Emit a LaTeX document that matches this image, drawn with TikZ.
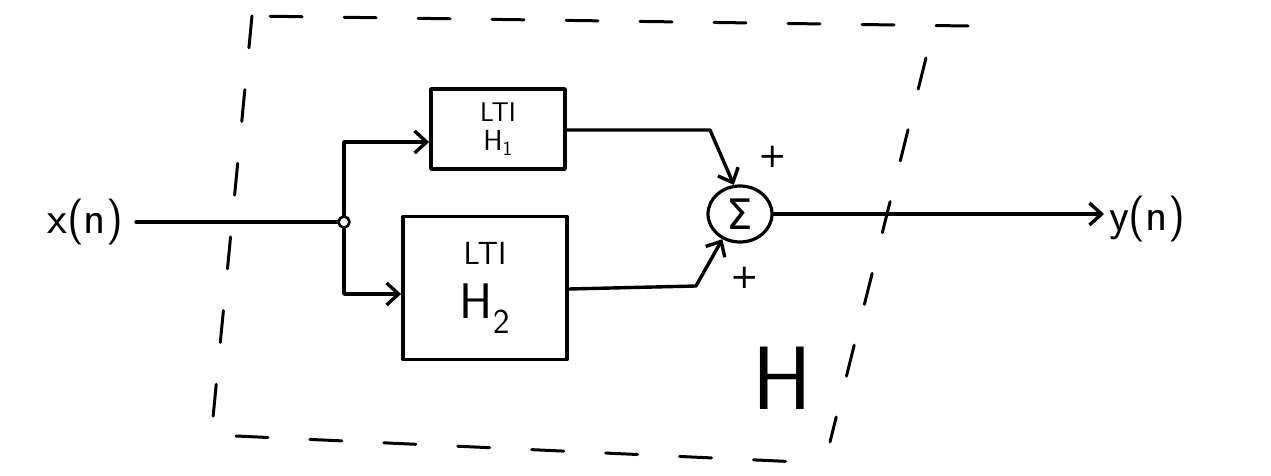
\documentclass[tikz,border=0pt]{standalone}
\usepackage{fontspec}
\newfontfamily\dvfont{DejaVu Sans}
\usetikzlibrary{arrows.meta,shapes.geometric}
\begin{document}
\begin{tikzpicture}[x=1pt,y=-1pt,
  line width=3.4pt, line cap=round, line join=round,
  every node/.style={font=\sffamily},
  wire/.style={line width=3.4pt},
  arr/.style={wire,-{Straight Barb[length=12pt,width=22pt,line width=3.4pt]}},
  ltibox/.style={draw, line width=3.8pt, rectangle, align=center, inner sep=0pt},
  dashbox/.style={line width=3pt, dash pattern=on 32pt off 42pt},
  sig/.style={font=\sffamily\fontsize{46}{50}\selectfont},
  plus/.style={font=\dvfont\fontsize{34}{36}\selectfont}
]
\useasboundingbox (0,0) rectangle (1271,476);

% signals
\node[sig, anchor=east] (xin) at (128,222) {x(n)};
\node[sig, anchor=west] (yout) at (1104,219) {y(n)};

% junction
\node[draw, circle, line width=2.6pt, minimum size=11pt, inner sep=0pt] (j) at (344,222) {};

% LTI boxes
\node[ltibox, minimum width=134pt, minimum height=80pt] (h1) at (498,129)
  {\fontsize{27}{27}\selectfont LTI\\[8pt]\fontsize{29}{29}\selectfont H\textsubscript{1}};
\node[ltibox, minimum width=164pt, minimum height=143pt] (h2) at (485,288)
  {\fontsize{32}{34}\selectfont LTI\\[18pt]\fontsize{50}{52}\selectfont H\textsubscript{2}};

% summer
\node[draw, ellipse, line width=3.2pt, minimum width=64pt, minimum height=56pt, inner sep=0pt,
  font=\dvfont\fontsize{42}{44}\selectfont] (sum) at (740,214) {Σ};
\node[plus] (p1) at (773,157) {+};
\node[plus] (p2) at (745,278) {+};

% big H label
\node[font=\sffamily\fontsize{90}{92}\selectfont] (H) at (782,378) {H};

% coordinates
\coordinate (k1) at (710,130);
\coordinate (k2) at (696,286);

% connectors
\draw[wire] (xin.east) ++(8,0) -- (j.west);
\draw[arr] (j.north) |- (h1.west |- 0,142);
\draw[arr] (j.south) |- (h2.west |- 0,294);
\draw[arr] (h1.east |- 0,130) -- (k1) -- (sum.102);
\draw[arr] (h2.east |- 0,289) -- (k2) -- (sum.235);
\draw[arr] (sum.east) -- (yout.west |- sum.east);

% dashed system boundary
\coordinate (tl) at (252,16);
\coordinate (tr) at (968,26);
\coordinate (rt) at (926,58);
\coordinate (rb) at (830,442);
\coordinate (bl) at (212,428);
\coordinate (b1) at (236,436);
\coordinate (br) at (800,462);
\draw[dashbox] (tr) -- (tl);
\draw[dashbox] (tl) -- (bl);
\draw[dashbox] (rt) -- (rb);
\draw[dashbox] (b1) -- (br);
\end{tikzpicture}
\end{document}
